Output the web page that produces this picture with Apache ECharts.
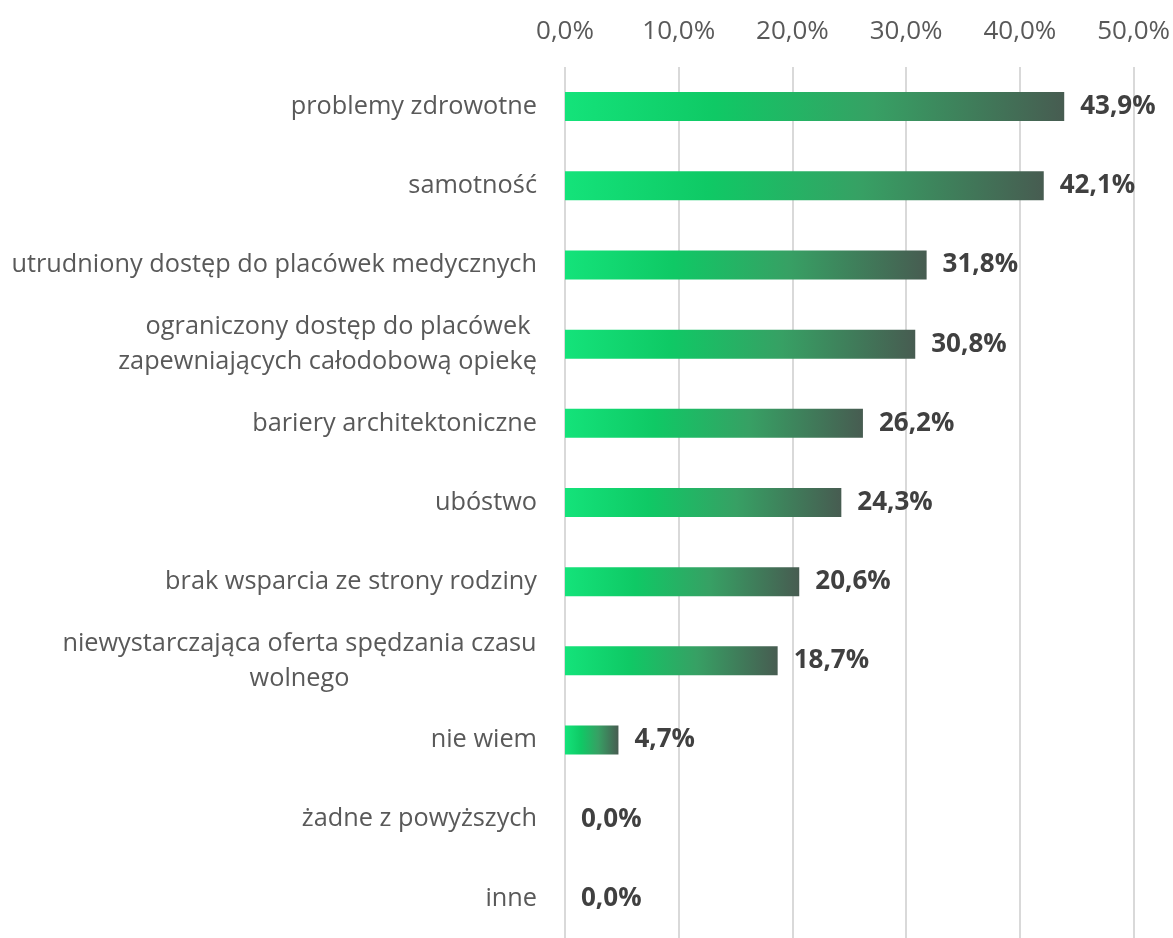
<!DOCTYPE html>
<html>
<head>
<meta charset="utf-8">
<style>html,body{margin:0;padding:0;background:#fff}#c{width:1173px;height:938px}</style>
<script src="https://cdn.jsdelivr.net/npm/echarts@6/dist/echarts.min.js"></script>
</head>
<body>
<div id="c"></div>
<script>
const categories = [
  "problemy zdrowotne",
  "samotność",
  "utrudniony dostęp do placówek medycznych",
  "ograniczony dostęp do placówek \nzapewniających całodobową opiekę",
  "bariery architektoniczne",
  "ubóstwo",
  "brak wsparcia ze strony rodziny",
  "niewystarczająca oferta spędzania czasu\nwolnego",
  "nie wiem",
  "żadne z powyższych",
  "inne"
];
const values = [43.9, 42.1, 31.8, 30.8, 26.2, 24.3, 20.6, 18.7, 4.7, 0.0, 0.0];
const tickValues = [0, 10, 20, 30, 40, 50];

const FONT = "'Open Sans', 'Noto Sans', sans-serif";
const FS = 25.3;
const ctx = document.createElement('canvas').getContext('2d');
ctx.font = FS + 'px ' + FONT;
const chart = echarts.init(document.getElementById('c'));
const grad = new echarts.graphic.LinearGradient(0, 0, 1, 0, [
  {offset: 0, color: '#14e37a'},
  {offset: 0.3, color: '#0fc965'},
  {offset: 0.62, color: '#37a064'},
  {offset: 1, color: '#475c51'}
]);
chart.setOption({
  animation: false,
  grid: {left: 565, right: 38, top: 67, bottom: -9, containLabel: false},
  xAxis: {
    type: 'value', position: 'top', min: tickValues[0], max: tickValues[tickValues.length-1], interval: 10,
    axisLine: {show: false}, axisTick: {show: false},
    splitLine: {lineStyle: {color: '#d9d9d9', width: 2}},
    axisLabel: {formatter: v => v.toFixed(1).replace('.', ',') + '%', color: '#595959', fontSize: 26, fontFamily: FONT, margin: 22}
  },
  yAxis: {
    type: 'category', data: categories, inverse: true,
    axisLine: {show: false}, axisTick: {show: false},
    axisLabel: {
      color: '#595959', fontSize: FS, fontFamily: FONT, margin: 28, lineHeight: 35,
      formatter: (v) => {
        if (v.indexOf('niewystarczająca') === 0) {
          return v.split('\n').map(s => '{n|' + s + '}').join('\n');
        }
        return v;
      },
      rich: {n: {width: Math.ceil(ctx.measureText(categories[7].split('\n')[0]).width), align: 'center', color: '#595959', fontSize: FS, fontFamily: FONT, lineHeight: 35}}
    }
  },
  series: [{
    type: 'bar', data: values, barWidth: 29,
    itemStyle: {color: grad},
    label: {show: true, position: 'right', distance: 16, formatter: p => p.value.toFixed(1).replace('.', ',') + '%',
      color: '#404040', fontWeight: 'bold', fontSize: 26, fontFamily: FONT}
  }]
});
</script>
</body>
</html>
